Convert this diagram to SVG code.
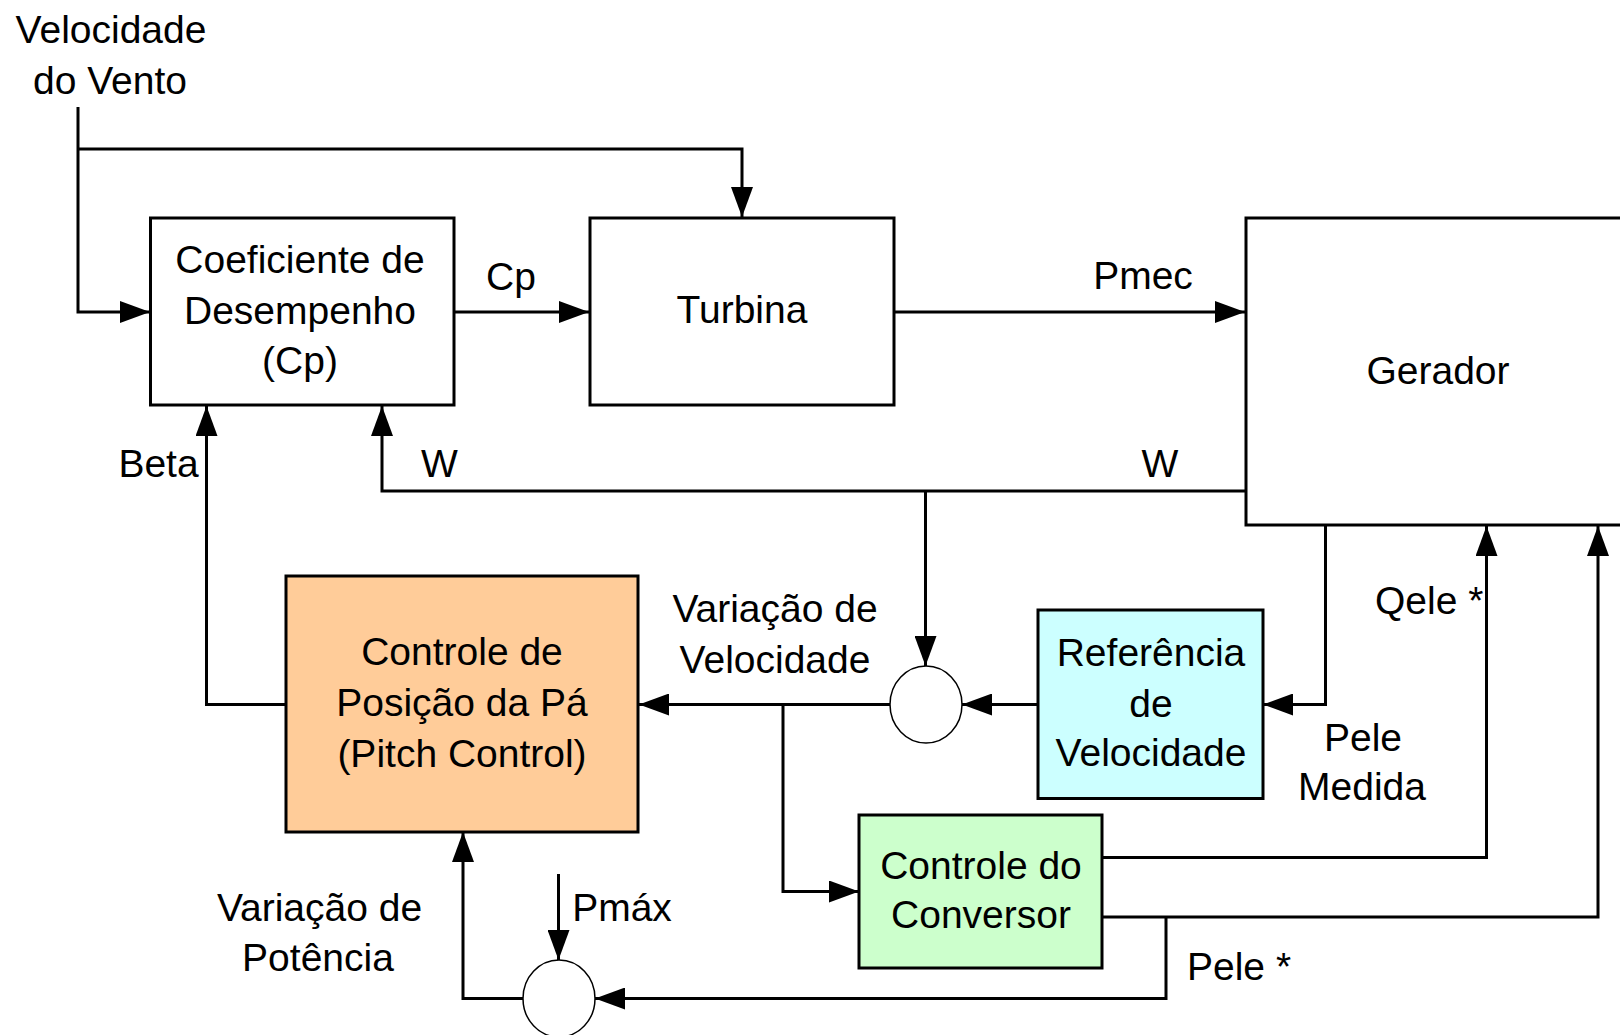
<svg xmlns="http://www.w3.org/2000/svg" width="1620" height="1035" viewBox="0 0 1620 1035">
<style>
text{font-family:"Liberation Sans",Arial,sans-serif;font-size:39px;fill:#000;text-anchor:middle}
.st{text-anchor:start}
.box{stroke:#000;stroke-width:3}
.sum{fill:#fff;stroke:#000;stroke-width:1.5}
.c{fill:none;stroke:#000;stroke-width:3}
</style>
<defs>
<marker id="ah" markerUnits="userSpaceOnUse" markerWidth="30" markerHeight="22" refX="30" refY="11" orient="auto" viewBox="0 0 30 22">
<path d="M0,0 L30,11 L0,22 z" fill="#000"/>
</marker>
</defs>
<rect width="1620" height="1035" fill="#fff"/>
<g id="connectors">
<path class="c" d="M78,107 V312 H150" marker-end="url(#ah)"/>
<path class="c" d="M78,149 H742 V217" marker-end="url(#ah)"/>
<path class="c" d="M454,312 H589" marker-end="url(#ah)"/>
<path class="c" d="M894,312 H1245" marker-end="url(#ah)"/>
<path class="c" d="M1246,491 H382 V406" marker-end="url(#ah)"/>
<path class="c" d="M925.5,491 V666" marker-end="url(#ah)"/>
<path class="c" d="M1038,704.5 H962" marker-end="url(#ah)"/>
<path class="c" d="M1325.5,525 V704.5 H1263" marker-end="url(#ah)"/>
<path class="c" d="M890,704.5 H639" marker-end="url(#ah)"/>
<path class="c" d="M783,704.5 V891.5 H859" marker-end="url(#ah)"/>
<path class="c" d="M286,704.5 H206.5 V406" marker-end="url(#ah)"/>
<path class="c" d="M1102,857.5 H1486.5 V526" marker-end="url(#ah)"/>
<path class="c" d="M1102,917 H1598 V526" marker-end="url(#ah)"/>
<path class="c" d="M1166,917 V998.5 H595" marker-end="url(#ah)"/>
<path class="c" d="M558.5,874 V960" marker-end="url(#ah)"/>
<path class="c" d="M523,998.5 H463 V832" marker-end="url(#ah)"/>
</g>
<g id="wind-label">
<text x="111" y="43">Velocidade</text>
<text x="110" y="94">do Vento</text>
</g>
<g id="cp">
<rect class="box" x="150.5" y="218" width="303.5" height="187" fill="#fff"/>
<text x="300" y="273">Coeficiente de</text>
<text x="300" y="324">Desempenho</text>
<text x="300" y="374">(Cp)</text>
</g>
<g id="turbina">
<rect class="box" x="590" y="218" width="304" height="187" fill="#fff"/>
<text x="742" y="323">Turbina</text>
</g>
<g id="gerador">
<rect class="box" x="1246" y="218" width="390" height="307" fill="#fff"/>
<text x="1438" y="384">Gerador</text>
</g>
<g id="pitch">
<rect class="box" x="286" y="576" width="352" height="256" fill="#FFCC99"/>
<text x="462" y="665">Controle de</text>
<text x="462" y="716">Posição da Pá</text>
<text x="462" y="767">(Pitch Control)</text>
</g>
<g id="referencia">
<rect class="box" x="1038" y="610" width="225" height="188.5" fill="#CCFFFF"/>
<text x="1151" y="665.5">Referência</text>
<text x="1151" y="716.5">de</text>
<text x="1151" y="766">Velocidade</text>
</g>
<g id="conversor">
<rect class="box" x="859" y="815" width="243" height="153" fill="#CCFFCC"/>
<text x="981" y="879">Controle do</text>
<text x="981" y="928">Conversor</text>
</g>
<g id="sum1">
<ellipse class="sum" cx="926" cy="704.5" rx="36" ry="38.5"/>
</g>
<g id="sum2">
<ellipse class="sum" cx="559" cy="998.5" rx="36" ry="38.5"/>
</g>
<g id="labels">
<text x="511" y="290">Cp</text>
<text x="1143" y="289">Pmec</text>
<text x="439.5" y="477">W</text>
<text x="1160" y="477">W</text>
<text x="158.5" y="477">Beta</text>
<text x="775" y="622">Variação de</text>
<text x="775" y="673">Velocidade</text>
<text x="1363" y="751">Pele</text>
<text x="1362" y="800">Medida</text>
<text class="st" x="1375" y="614">Qele *</text>
<text class="st" x="1187" y="980">Pele *</text>
<text x="622" y="921">Pmáx</text>
<text x="319.5" y="921">Variação de</text>
<text x="318" y="971">Potência</text>
</g>
</svg>
